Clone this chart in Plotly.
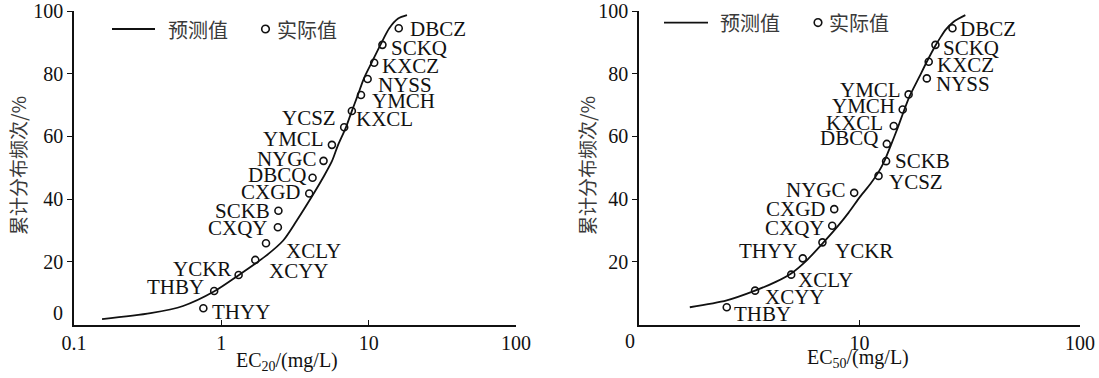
import numpy as np
import plotly.graph_objects as go

# ---------------- data ----------------
left_names = ["THYY", "THBY", "YCKR", "XCYY", "XCLY", "CXQY", "SCKB", "CXGD", "DBCQ",
              "NYGC", "YMCL", "YCSZ", "KXCL", "YMCH", "NYSS", "KXCZ", "SCKQ", "DBCZ"]
left_ec20 = [0.755, 0.894, 1.31, 1.70, 2.01, 2.42, 2.44, 3.95, 4.16,
             4.94, 5.63, 6.82, 7.69, 8.87, 9.84, 10.9, 12.4, 16.0]
left_freq = [5.2, 10.7, 15.8, 20.6, 25.9, 31.0, 36.3, 41.8, 46.8,
             52.2, 57.3, 62.9, 68.1, 73.2, 78.3, 83.5, 89.2, 94.5]

left_fit_x = [0.155, 0.331, 0.55, 0.891, 1.318, 1.995, 2.63, 3.236, 4.266, 4.898, 5.623,
              6.166, 7.0, 7.674, 8.414, 9.247, 10.47, 12.02, 13.8, 15.85, 18.2]
left_fit_y = [1.7, 3.6, 5.9, 10.5, 15.8, 21.8, 26.8, 33.0, 42.0, 46.8, 52.0,
              57.0, 62.8, 68.0, 73.0, 78.3, 83.5, 89.2, 94.5, 97.6, 98.7]

right_names = ["THBY", "XCYY", "XCLY", "THYY", "YCKR", "CXQY", "CXGD", "NYGC", "YCSZ",
               "SCKB", "DBCQ", "KXCL", "YMCH", "YMCL", "NYSS", "KXCZ", "SCKQ", "DBCZ"]
right_ec50 = [2.50, 3.36, 4.90, 5.53, 6.79, 7.52, 7.68, 9.46, 12.2,
              13.2, 13.3, 14.3, 15.7, 16.7, 20.2, 20.6, 22.1, 26.4]
right_freq = [5.5, 10.8, 15.9, 21.1, 26.2, 31.5, 36.8, 42.0, 47.4,
              52.1, 57.6, 63.3, 68.6, 73.4, 78.5, 83.8, 89.2, 94.5]

right_fit_x = [1.70, 2.50, 3.36, 4.17, 4.90, 5.75, 6.79, 7.94, 8.91, 10.07, 11.22, 12.19,
               13.0, 13.9, 14.93, 15.74, 16.9, 18.62, 20.09, 22.08, 23.44, 24.49, 26.73, 30.2]
right_fit_y = [5.5, 7.7, 10.8, 13.6, 16.3, 20.4, 25.8, 31.2, 35.6, 40.8, 44.9, 48.6,
               52.3, 57.3, 62.9, 67.3, 72.9, 78.8, 83.5, 88.9, 91.9, 93.9, 96.6, 98.7]

y_ticks = [20, 40, 60, 80, 100]
left_xticks = [0.1, 1, 10, 100]
left_xtext = ["0.1", "1", "10", "100"]
right_xticks = [10, 100]
right_xtext = ["10", "100"]

legend_line = "预测值"
legend_mark = "实际值"
y_title = "累计分布频次/%"
left_x_title = "EC<sub>20</sub>/(mg/L)"
right_x_title = "EC<sub>50</sub>/(mg/L)"

# ---------------- label placement (style) ----------------
left_lab = {
    "DBCZ": ("left", 10, 1), "SCKQ": ("left", 8, 3), "KXCZ": ("left", 7, 3),
    "NYSS": ("left", 9, 6), "YMCH": ("left", 10, 6), "KXCL": ("left", 3, 8),
    "YCSZ": ("right", -7, -9), "YMCL": ("right", -7, -6), "NYGC": ("right", -6, -2),
    "DBCQ": ("right", -6, -3), "CXGD": ("right", -7, -1), "SCKB": ("right", -7, 0),
    "CXQY": ("right", -9, 1), "XCLY": ("left", 19, 8), "XCYY": ("left", 13, 11),
    "YCKR": ("right", -7, -6), "THBY": ("right", -9, -4), "THYY": ("left", 8, 4),
}
right_lab = {
    "DBCZ": ("left", 7, 1), "SCKQ": ("left", 7, 3), "KXCZ": ("left", 7, 3),
    "NYSS": ("left", 8, 6), "YMCL": ("right", -7, -4), "YMCH": ("right", -7, -3),
    "KXCL": ("right", -10, -3), "DBCQ": ("right", -8, -6), "SCKB": ("left", 8, 0),
    "YCSZ": ("left", 9, 6), "NYGC": ("right", -7, -3), "CXGD": ("right", -7, 0),
    "CXQY": ("right", -6, 2), "THYY": ("right", -5, -7), "YCKR": ("left", 12, 9),
    "XCLY": ("left", 6, 5), "XCYY": ("left", 9, 6), "THBY": ("left", 6, 7),
}

W, H = 1099, 378
SERIF = "Liberation Serif"
CJK = "Noto Sans CJK SC"
INK = "#111111"
CJK_INK = "#3a3a3a"


def px_x(p):
    return p / W


def px_y(p):
    return 1 - p / H


fig = go.Figure()

for xs, ys, xa, ya in [(left_fit_x, left_fit_y, "x", "y"), (right_fit_x, right_fit_y, "x2", "y2")]:
    fig.add_trace(go.Scatter(x=xs, y=ys, mode="lines", xaxis=xa, yaxis=ya,
                             line=dict(color=INK, width=1.8, shape="spline", smoothing=0.8),
                             showlegend=False, hoverinfo="skip"))

for xs, ys, xa, ya in [(left_ec20, left_freq, "x", "y"), (right_ec50, right_freq, "x2", "y2")]:
    fig.add_trace(go.Scatter(x=xs, y=ys, mode="markers", xaxis=xa, yaxis=ya,
                             marker=dict(symbol="circle-open", size=7, color=INK,
                                         line=dict(width=1.6, color=INK)),
                             showlegend=False))

annotations = []
for names, xs, ys, lab, xa, ya in [(left_names, left_ec20, left_freq, left_lab, "x", "y"),
                                   (right_names, right_ec50, right_freq, right_lab, "x2", "y2")]:
    for n, xv, yv in zip(names, xs, ys):
        side, dx, dy = lab[n]
        annotations.append(dict(
            x=float(np.log10(xv)), y=yv, xref=xa, yref=ya, text=n, showarrow=False,
            xanchor=side, yanchor="middle", xshift=dx, yshift=-dy, borderpad=0,
            font=dict(family=SERIF, size=21, color=INK)))

# "0" tick labels placed as in the reference
annotations.append(dict(x=0, y=0, xref="x domain", yref="y", text="0", showarrow=False,
                        xanchor="right", yanchor="middle", xshift=-9, yshift=11.5,
                        font=dict(family=SERIF, size=20, color=INK)))
annotations.append(dict(x=0, y=0, xref="x2 domain", yref="y2 domain", text="0", showarrow=False,
                        xanchor="center", yanchor="top", xshift=-9, yshift=-3,
                        font=dict(family=SERIF, size=20, color=INK)))

# axis titles
for xp, yp, t in [(287, 361, left_x_title), (858, 358, right_x_title)]:
    annotations.append(dict(x=px_x(xp), y=px_y(yp), xref="paper", yref="paper", text=t,
                            showarrow=False, xanchor="center", yanchor="middle",
                            font=dict(family=SERIF, size=20, color=INK)))
for xp in [18, 587]:
    annotations.append(dict(x=px_x(xp), y=px_y(166), xref="paper", yref="paper", text=y_title,
                            showarrow=False, xanchor="center", yanchor="middle", textangle=-90,
                            font=dict(family=CJK, size=19, color=CJK_INK)))

# legends
shapes = []
for (l0, l1, ly, t1, cx, t2) in [(112, 155, 29, 166, 265.5, 275), (664, 708, 22.6, 718, 818, 827)]:
    shapes.append(dict(type="line", xref="paper", yref="paper", x0=px_x(l0), x1=px_x(l1),
                       y0=px_y(ly), y1=px_y(ly), line=dict(color=INK, width=1.8)))
    shapes.append(dict(type="circle", xref="paper", yref="paper", x0=px_x(cx - 3.8),
                       x1=px_x(cx + 3.8), y0=px_y(ly + 3.8), y1=px_y(ly - 3.8),
                       line=dict(color=INK, width=1.6)))
    annotations.append(dict(x=px_x(t1), y=px_y(ly), xref="paper", yref="paper", text=legend_line,
                            showarrow=False, xanchor="left", yanchor="middle",
                            font=dict(family=CJK, size=20, color=CJK_INK)))
    annotations.append(dict(x=px_x(t2), y=px_y(ly), xref="paper", yref="paper", text=legend_mark,
                            showarrow=False, xanchor="left", yanchor="middle",
                            font=dict(family=CJK, size=20, color=CJK_INK)))

xcommon = dict(type="log", showgrid=False, zeroline=False, showline=True, linecolor=INK,
               linewidth=1.6, ticks="inside", ticklen=5, tickwidth=1.4, tickcolor=INK,
               tickfont=dict(family=SERIF, size=20, color=INK), mirror=False,
               automargin=False, ticklabeloverflow="allow")
ycommon = dict(range=[0, 100], showgrid=False, zeroline=False, showline=True, linecolor=INK,
               linewidth=1.6, ticks="outside", ticklen=5, tickwidth=1.4, tickcolor=INK,
               tickvals=y_ticks, ticktext=[str(v) for v in y_ticks],
               tickfont=dict(family=SERIF, size=20, color=INK), mirror=False,
               automargin=False, ticklabeloverflow="allow")

fig.update_layout(
    template="none",
    width=W, height=H, margin=dict(l=0, r=0, t=0, b=0, pad=0), autosize=False,
    paper_bgcolor="white", plot_bgcolor="white", showlegend=False, hovermode=False,
    xaxis=dict(**xcommon, domain=[px_x(74), px_x(516)], range=[-1, 2], anchor="y",
               tickvals=left_xticks, ticktext=left_xtext),
    yaxis=dict(**ycommon, domain=[px_y(324.5), px_y(11)], anchor="x"),
    xaxis2=dict(**xcommon, domain=[px_x(639), px_x(1080)], range=[0, 2], anchor="y2",
                tickvals=right_xticks, ticktext=right_xtext),
    yaxis2=dict(**ycommon, domain=[px_y(324.5), px_y(11)], anchor="x2"),
    annotations=annotations, shapes=shapes,
)

# the page's default 8 px body margin would shift the figure off the window corner
fig.write_html("out.html", config={"displayModeBar": False},
               post_script="document.body.style.margin='0px';")
